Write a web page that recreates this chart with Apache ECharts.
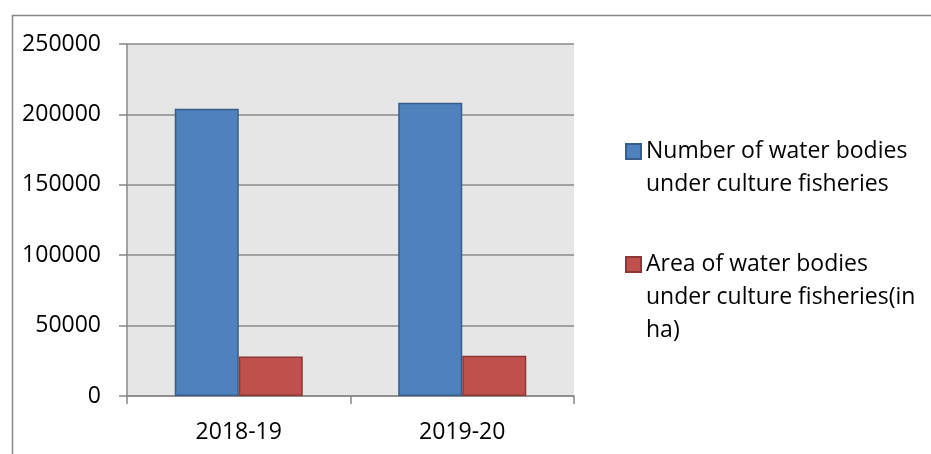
<!DOCTYPE html>
<html>
<head>
<meta charset="utf-8">
<script src="https://cdn.jsdelivr.net/npm/echarts@6/dist/echarts.min.js"></script>
<style>
  html, body { margin: 0; padding: 0; background: #ffffff; }
  #chart { width: 931px; height: 454px; }
</style>
</head>
<body>
<div id="chart"></div>
<script>
// Culture fisheries: water bodies count and area, by year
const years = ['2018-19', '2019-20'];
const waterBodiesCount = [204000, 208300];
const waterBodiesArea = [28000, 28600];
const seriesNames = [
  'Number of water bodies\nunder culture fisheries',
  'Area of water bodies\nunder culture fisheries(in\nha)'
];
const yTicks = { min: 0, max: 250000, interval: 50000 };

const FONT = '"Open Sans", "Noto Sans", sans-serif';
const LINE_H = 33;

// Legend text is vertically centred on its icon; leading blank lines
// push the block down so the first line sits level with the icon.
function legendFor(name, top) {
  const lines = name.split('\n').length;
  return {
    orient: 'vertical',
    left: 625,
    top: top,
    padding: 0,
    data: [name],
    icon: 'rect',
    itemWidth: 15,
    itemHeight: 15,
    itemGap: 0,
    selectedMode: false,
    formatter: n => '\n'.repeat(lines - 1) + n,
    textStyle: {
      fontFamily: FONT,
      fontSize: 23,
      color: '#000000',
      lineHeight: LINE_H
    }
  };
}

const chart = echarts.init(document.getElementById('chart'), null, { renderer: 'canvas' });

chart.setOption({
  animation: false,
  backgroundColor: '#ffffff',
  textStyle: { fontFamily: FONT },
  graphic: [{
    type: 'rect',
    silent: true,
    z: -10,
    shape: { x: 12.5, y: 15.5, width: 1000, height: 1000 },
    style: { fill: 'none', stroke: '#878787', lineWidth: 1.5 }
  }],
  legend: [
    legendFor(seriesNames[0], 102),
    legendFor(seriesNames[1], 182)
  ],
  grid: {
    left: 127,
    top: 44,
    right: 357,
    bottom: 58,
    show: true,
    backgroundColor: '#e6e6e6',
    borderWidth: 0
  },
  xAxis: {
    type: 'category',
    data: years,
    axisLine: { show: true, lineStyle: { color: '#888888', width: 1.5 } },
    axisTick: { show: true, alignWithLabel: false, length: 8, lineStyle: { color: '#888888', width: 1.5 } },
    axisLabel: { fontFamily: FONT, fontSize: 23, color: '#000000', margin: 25 },
    splitLine: { show: false }
  },
  yAxis: {
    type: 'value',
    min: yTicks.min,
    max: yTicks.max,
    interval: yTicks.interval,
    axisLine: { show: true, lineStyle: { color: '#888888', width: 1.5 } },
    axisTick: { show: true, inside: false, length: 8, lineStyle: { color: '#888888', width: 1.5 } },
    axisLabel: {
      fontFamily: FONT, fontSize: 23, color: '#000000', margin: 26,
      formatter: v => String(v)
    },
    splitLine: { show: true, lineStyle: { color: '#8a8a8a', width: 1.5 } }
  },
  series: [
    {
      name: seriesNames[0],
      type: 'bar',
      data: waterBodiesCount,
      barGap: '0%',
      barCategoryGap: '42.7%',
      itemStyle: { color: '#4f81bd', borderColor: '#385d8a', borderWidth: 1.5 }
    },
    {
      name: seriesNames[1],
      type: 'bar',
      data: waterBodiesArea,
      itemStyle: { color: '#c0504d', borderColor: '#8c3836', borderWidth: 1.5 }
    }
  ]
});
</script>
</body>
</html>
